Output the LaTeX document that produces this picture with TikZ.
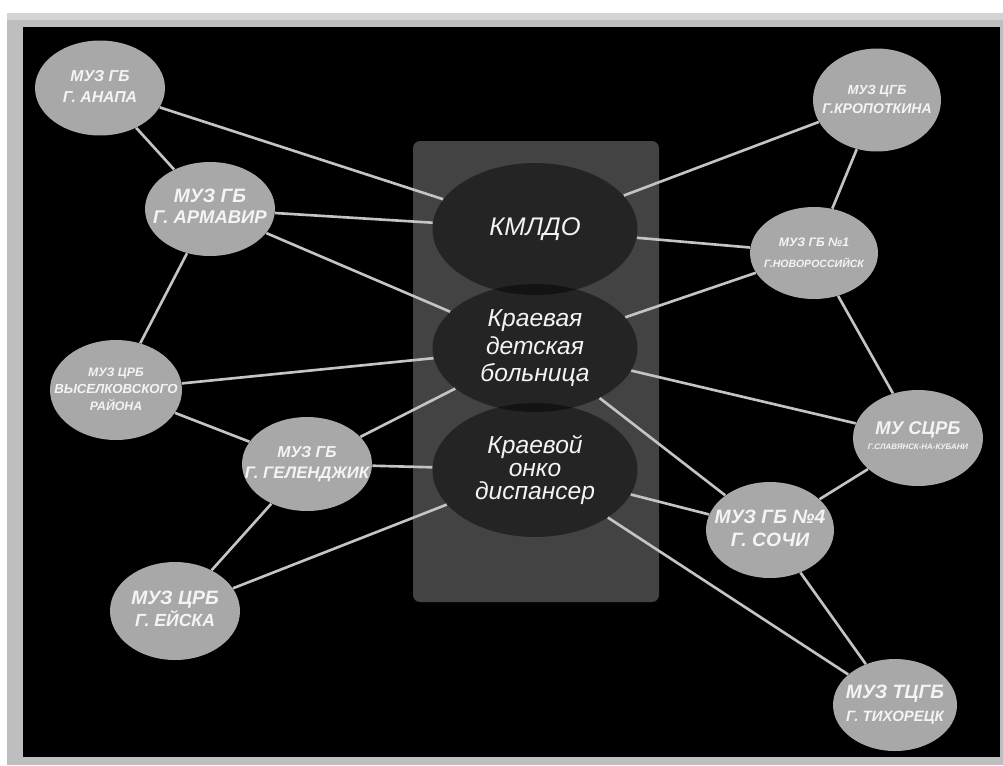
\documentclass[tikz,border=0pt]{standalone}
\usepackage{fontspec}
\setmainfont{Liberation Sans}
\usetikzlibrary{shapes.geometric}

\definecolor{framegray}{HTML}{BEBEBE}
\definecolor{frametop}{HTML}{D4D4D4}
\definecolor{panelgray}{HTML}{434343}
\definecolor{orggray}{HTML}{A8A8A8}
\definecolor{linkgray}{HTML}{C4C4C4}
\definecolor{labelwhite}{HTML}{F4F4F4}

\newcommand{\fs}[1]{\fontsize{#1}{12}\selectfont}
\newcommand{\orgtext}[1]{\makebox[0pt]{\begin{tabular}{@{}c@{}}#1\end{tabular}}}

\begin{document}
\begin{tikzpicture}[%
      x=0.02cm, y=-0.02cm,
      org/.style={ellipse, fill=orggray, inner sep=0pt,
        minimum width=2.6cm, minimum height=1.9cm,
        text=labelwhite, font=\bfseries\itshape\fontsize{8}{12}\selectfont},
      centre/.style={ellipse, fill=black, fill opacity=0.45, text opacity=1,
        inner sep=0pt, minimum width=4.1cm, minimum height=2.64cm,
        text=labelwhite, align=center},
      link/.style={draw=linkgray, line width=1.5pt},
      ]
      % frame
      \fill [white] (0,0) rectangle (1003,765);
      \fill [framegray] (7,13) rectangle (1003,765);
      \fill [frametop] (7,13) rectangle (1003,20);
      \fill [black] (23,27) rectangle (1000,757);
      \fill [panelgray, rounded corners=4pt] (413,141) rectangle (659,602);

      % centre
      \node [centre, font=\itshape\fontsize{14.5}{15}\selectfont] (kmldo) at (535,229) {КМЛДО};
      \node [centre, font=\itshape\fontsize{14}{15.5}\selectfont, minimum height=2.56cm] (detskaya) at (535,348) {Краевая\\детская\\больница};
      \node [centre, font=\itshape\fontsize{14}{13}\selectfont, minimum height=2.68cm] (onko) at (535,470) {Краевой\\онко\\диспансер};

      % left
      \node [org] (anapa) at (100,88) {\orgtext{\fs{9}МУЗ ГБ\\\fs{9}Г. АНАПА}};
      \node [org, minimum height=1.88cm] (armavir) at (210,209) {\orgtext{\fs{11}МУЗ ГБ\\\fs{10.5}Г. АРМАВИР}};
      \node [org, minimum width=2.64cm, minimum height=2cm, font=\bfseries\itshape\fontsize{7}{9.5}\selectfont] (vyselki) at (116,390) {\orgtext{\fs{7}МУЗ ЦРБ\\\fs{7.5}ВЫСЕЛКОВСКОГО\\\fs{7}РАЙОНА}};
      \node [org, minimum height=1.88cm] (gelendzhik) at (307,464) {\orgtext{\fs{9}МУЗ ГБ\\\fs{9.5}Г. ГЕЛЕНДЖИК}};
      \node [org, minimum height=1.96cm] (eysk) at (175,611) {\orgtext{\fs{11}МУЗ ЦРБ\\\fs{10}Г. ЕЙСКА}};

      % right
      \node [org, minimum width=2.56cm, minimum height=2.06cm, font=\bfseries\itshape\fontsize{8}{11}\selectfont] (kropotkin) at (877,100) {\orgtext{\fs{7.5}МУЗ ЦГБ\\\fs{8}Г.КРОПОТКИНА}};
      \node [org, minimum width=2.56cm, minimum height=1.84cm] (novoross) at (814,253) {\orgtext{\fs{7}МУЗ ГБ №1\\\fs{6}Г.НОВОРОССИЙСК}};
      \node [org, minimum height=1.92cm, font=\bfseries\itshape\fontsize{8}{9}\selectfont] (slavyansk) at (918,438) {\orgtext{\fs{10.5}МУ СЦРБ\\\fs{4.5}Г.СЛАВЯНСК-НА-КУБАНИ}};
      \node [org, minimum width=2.56cm, minimum height=1.92cm, font=\bfseries\itshape\fontsize{8}{13}\selectfont] (sochi) at (770,530) {\orgtext{\fs{11}МУЗ ГБ №4\\\fs{11}Г. СОЧИ}};
      \node [org, minimum width=2.48cm, minimum height=1.84cm, font=\bfseries\itshape\fontsize{8}{13}\selectfont] (tikhoretsk) at (895,705) {\orgtext{\fs{11}МУЗ ТЦГБ\\\fs{8.5}Г. ТИХОРЕЦК}};

      % links
      \draw [link] (anapa) -- (kmldo);
      \draw [link] (anapa) -- (armavir);
      \draw [link] (armavir) -- (kmldo);
      \draw [link] (armavir) -- (detskaya);
      \draw [link] (armavir) -- (vyselki);
      \draw [link] (vyselki) -- (detskaya);
      \draw [link] (vyselki) -- (gelendzhik);
      \draw [link] (gelendzhik) -- (detskaya);
      \draw [link] (gelendzhik) -- (onko);
      \draw [link] (gelendzhik) -- (eysk);
      \draw [link] (eysk) -- (onko);
      \draw [link] (kropotkin) -- (kmldo);
      \draw [link] (kropotkin) -- (novoross);
      \draw [link] (novoross) -- (kmldo);
      \draw [link] (novoross) -- (detskaya);
      \draw [link] (novoross) -- (slavyansk);
      \draw [link] (slavyansk) -- (detskaya);
      \draw [link] (slavyansk) -- (sochi);
      \draw [link] (sochi) -- (detskaya);
      \draw [link] (sochi) -- (onko);
      \draw [link] (sochi) -- (tikhoretsk);
      \draw [link] (onko) -- (tikhoretsk);
\end{tikzpicture}
\end{document}
